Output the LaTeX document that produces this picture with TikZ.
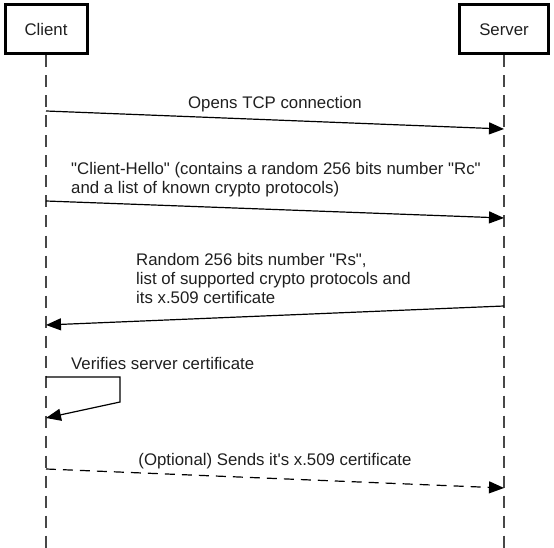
\documentclass[tikz,border=0pt]{standalone}
\usepackage{fontspec}
\setmainfont{Liberation Sans}
\usetikzlibrary{arrows.meta}
\begin{document}
\begin{tikzpicture}[x=1pt,y=-1pt,
  every node/.style={font=\fontsize{16.8}{19}\selectfont, text=black!88, inner sep=0pt},
  actor/.style={draw=black, line width=3pt, minimum height=49pt, inner sep=0pt},
  lifeline/.style={draw=black!72, line width=1.6pt, dash pattern=on 12pt off 8pt},
  msg/.style={draw=black, line width=1.2pt, -{Triangle[length=15pt,width=12pt]}},
  optmsg/.style={msg, dash pattern=on 10pt off 7pt},
  lbl/.style={anchor=base, align=left}
]
\useasboundingbox (0,0) rectangle (554,548);

% actors
\node[actor, minimum width=82pt] (client) at (46,29.5) {Client};
\node[actor, minimum width=89pt] (server) at (504,29.5) {Server};
\coordinate (cend) at (46,548);
\coordinate (send) at (504,548);
\draw[lifeline] (client.south) -- (cend);
\draw[lifeline] (server.south) -- (send);

% message 1
\coordinate (a1) at (46,111);
\coordinate (b1) at (504,129);
\draw[msg] (a1) -- (b1);
\node[lbl] (l1) at (275,109) {Opens TCP connection};

% message 2
\coordinate (a2) at (46,201);
\coordinate (b2) at (504,218);
\draw[msg] (a2) -- (b2);
\node[lbl, anchor=base west] (l2a) at (71,175) {\textquotedbl Client-Hello\textquotedbl{} (contains a random 256 bits number \textquotedbl Rc\textquotedbl};
\node[lbl, anchor=base west] (l2b) at (71,194) {and a list of known crypto protocols)};

% message 3
\coordinate (b3) at (504,306);
\coordinate (a3) at (46,325);
\draw[msg] (b3) -- (a3);
\node[lbl, anchor=base west] (l3a) at (136,265) {Random 256 bits number \textquotedbl Rs\textquotedbl,};
\node[lbl, anchor=base west] (l3b) at (136,284) {list of supported crypto protocols and};
\node[lbl, anchor=base west] (l3c) at (136,303) {its x.509 certificate};

% self message
\coordinate (v1) at (46,377);
\coordinate (v2) at (120,377);
\coordinate (v3) at (120,402);
\coordinate (v4) at (46,418);
\draw[msg] (v1) -- (v2) -- (v3) -- (v4);
\node[lbl, anchor=base west] (l4) at (71,369) {Verifies server certificate};

% optional message
\coordinate (a5) at (46,469);
\coordinate (b5) at (504,488);
\draw[optmsg] (a5) -- (b5);
\node[lbl] (l5) at (275,465) {(Optional) Sends it\textquotesingle s x.509 certificate};
\end{tikzpicture}
\end{document}
